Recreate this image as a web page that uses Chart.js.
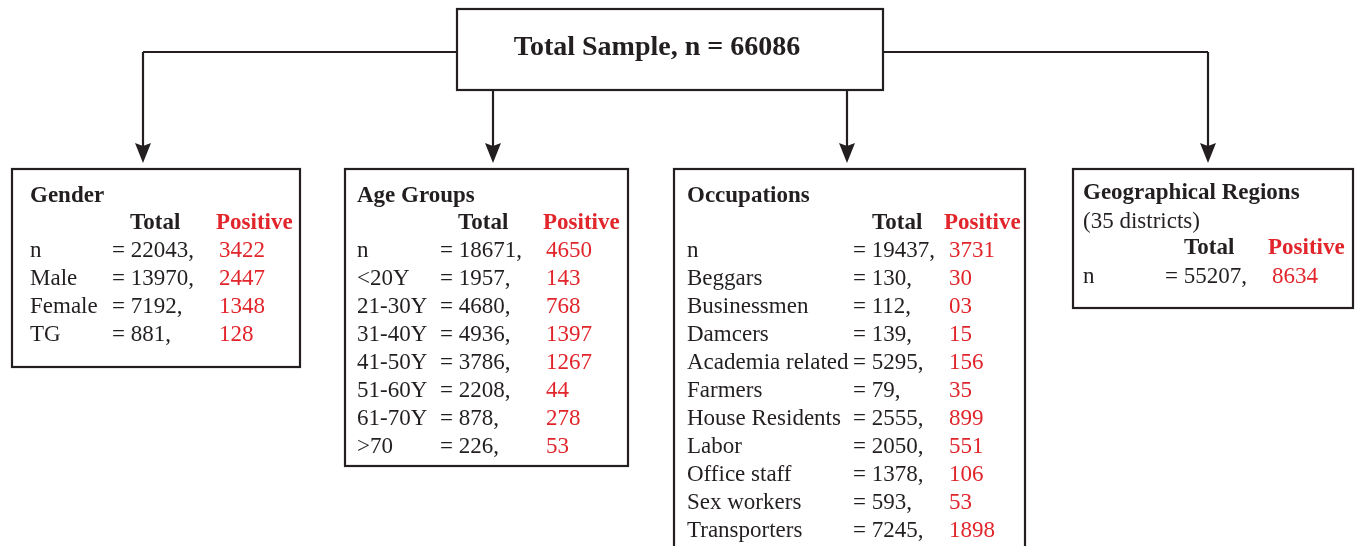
<!DOCTYPE html>
<html>
<head>
<meta charset="utf-8">
<script src="https://cdn.jsdelivr.net/npm/chart.js@4.4.1/dist/chart.umd.min.js"></script>
<style>
  html, body { margin: 0; padding: 0; background: #fff; }
  canvas { display: block; }
</style>
</head>
<body>
<canvas id="flowChart" width="1356" height="546"></canvas>
<script>
// data
const totalSample = 66086;

const genderLabels = ['n', 'Male', 'Female', 'TG'];
const genderTotal = [22043, 13970, 7192, 881];
const genderPositive = ['3422', '2447', '1348', '128'];

const ageLabels = ['n', '<20Y', '21-30Y', '31-40Y', '41-50Y', '51-60Y', '61-70Y', '>70'];
const ageTotal = [18671, 1957, 4680, 4936, 3786, 2208, 878, 226];
const agePositive = ['4650', '143', '768', '1397', '1267', '44', '278', '53'];

const occLabels = ['n', 'Beggars', 'Businessmen', 'Damcers', 'Academia related', 'Farmers',
  'House Residents', 'Labor', 'Office staff', 'Sex workers', 'Transporters'];
const occTotal = [19437, 130, 112, 139, 5295, 79, 2555, 2050, 1378, 593, 7245];
const occPositive = ['3731', '30', '03', '15', '156', '35', '899', '551', '106', '53', '1898'];

const regionLabels = ['n'];
const regionTotal = [55207];
const regionPositive = ['8634'];

const INK = '#231f20';
const RED = '#e1252b';
const FONT = '"Liberation Serif", "Times New Roman", serif';

// box layout, in scale units (the scales span the page 1:1)
const panels = [
  { title: 'Gender', labels: genderLabels, totals: genderTotal, positives: genderPositive,
    box: [12, 169, 300, 367], arrowX: 143, fromTop: false,
    textX: 30, titleY: 196, headY: 223, rowY: 251, eqX: 112, totX: 130, posHeadX: 216, posX: 219 },
  { title: 'Age Groups', labels: ageLabels, totals: ageTotal, positives: agePositive,
    box: [345, 169, 628, 466], arrowX: 493, fromTop: true,
    textX: 357, titleY: 196, headY: 223, rowY: 251, eqX: 440, totX: 458, posHeadX: 543, posX: 546 },
  { title: 'Occupations', labels: occLabels, totals: occTotal, positives: occPositive,
    box: [674, 169, 1025, 570], arrowX: 847, fromTop: true,
    textX: 687, titleY: 196, headY: 223, rowY: 251, eqX: 853, totX: 872, posHeadX: 944, posX: 949 },
  { title: 'Geographical Regions', sub: '(35 districts)', labels: regionLabels, totals: regionTotal, positives: regionPositive,
    box: [1073, 169, 1353, 308], arrowX: 1208, fromTop: false,
    textX: 1083, titleY: 193, subY: 222, headY: 248, rowY: 277, eqX: 1165, totX: 1184, posHeadX: 1268, posX: 1272 }
];
const rootBox = [457, 9, 883, 90];
const branchY = 52;
const arrowTipY = 163;
const rowStep = 28;

const flowPlugin = {
  id: 'flow',
  afterDraw(chart) {
    const ctx = chart.ctx;
    const sx = chart.scales.x, sy = chart.scales.y;
    const X = v => sx.getPixelForValue(v);
    const Y = v => sy.getPixelForValue(v);

    ctx.save();
    ctx.strokeStyle = INK;
    ctx.fillStyle = INK;
    ctx.lineWidth = 2.2;

    function rect(b) {
      ctx.strokeRect(X(b[0]), Y(b[1]), X(b[2]) - X(b[0]), Y(b[3]) - Y(b[1]));
    }
    function arrow(x, y0, y1) {
      ctx.beginPath();
      ctx.moveTo(X(x), Y(y0));
      ctx.lineTo(X(x), Y(y1) - 12);
      ctx.stroke();
      ctx.beginPath();
      ctx.moveTo(X(x) - 8, Y(y1) - 20);
      ctx.lineTo(X(x), Y(y1) - 17);
      ctx.lineTo(X(x) + 8, Y(y1) - 20);
      ctx.lineTo(X(x), Y(y1));
      ctx.closePath();
      ctx.fill();
    }
    function text(s, x, y, color, bold, size) {
      ctx.fillStyle = color;
      ctx.font = (bold ? 'bold ' : '') + (size || 23) + 'px ' + FONT;
      ctx.fillText(s, X(x), Y(y));
    }

    // root box and branches
    rect(rootBox);
    ctx.beginPath();
    ctx.moveTo(X(panels[0].arrowX), Y(branchY));
    ctx.lineTo(X(rootBox[0]), Y(branchY));
    ctx.moveTo(X(rootBox[2]), Y(branchY));
    ctx.lineTo(X(panels[3].arrowX), Y(branchY));
    ctx.stroke();
    panels.forEach(p => arrow(p.arrowX, p.fromTop ? rootBox[3] : branchY, arrowTipY));

    ctx.textBaseline = 'middle';
    ctx.textAlign = 'center';
    text('Total Sample, n = ' + totalSample, 657, 48, INK, true, 28);
    ctx.textAlign = 'left';

    panels.forEach(p => {
      ctx.strokeStyle = INK;
      rect(p.box);
      text(p.title, p.textX, p.titleY, INK, true);
      if (p.sub) text(p.sub, p.textX, p.subY, INK, false);
      text('Total', p.totX, p.headY, INK, true);
      text('Positive', p.posHeadX, p.headY, RED, true);
      p.labels.forEach((lab, i) => {
        const y = p.rowY + i * rowStep;
        text(lab, p.textX, y, INK, false);
        text('= ' + p.totals[i] + ',', p.eqX, y, INK, false);
        text(p.positives[i], p.posX, y, RED, false);
      });
    });
    ctx.restore();
  }
};

new Chart(document.getElementById('flowChart').getContext('2d'), {
  type: 'scatter',
  data: { datasets: [{ data: [], pointRadius: 0 }] },
  options: {
    responsive: false,
    animation: false,
    devicePixelRatio: 1,
    layout: { padding: 0 },
    plugins: { legend: { display: false }, tooltip: { enabled: false } },
    scales: {
      x: { type: 'linear', min: 0, max: 1356, display: false },
      y: { type: 'linear', min: 0, max: 546, reverse: true, display: false }
    }
  },
  plugins: [flowPlugin]
});
</script>
</body>
</html>
